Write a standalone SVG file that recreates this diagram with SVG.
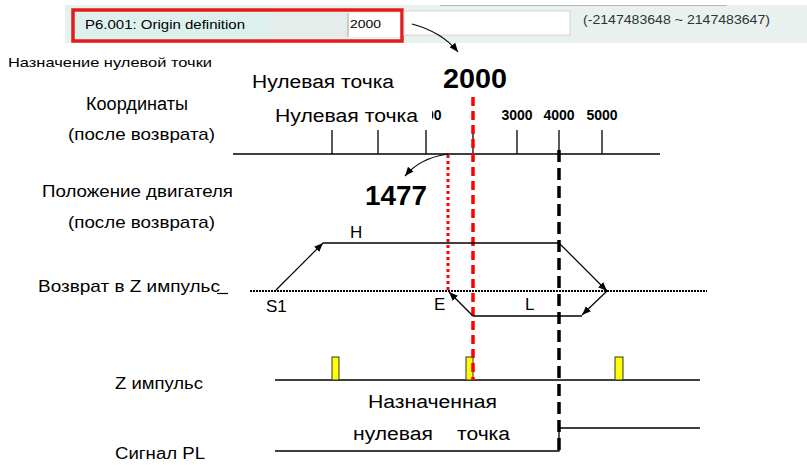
<svg xmlns="http://www.w3.org/2000/svg" width="807" height="465" viewBox="0 0 807 465">
<style>
text{font-family:"Liberation Sans",Arial,sans-serif;fill:#000}
.lbl{font-size:17px}
.big{font-size:18px}
.num{font-size:14px;font-weight:bold}
.bold{font-size:28px;font-weight:bold}
.ln{stroke:#000;stroke-width:1.3;fill:none}
.arr{stroke:#000;stroke-width:1.2;fill:none;marker-end:url(#ah)}
.pulse{fill:#ffff00;stroke:#333;stroke-width:1}
</style>
<defs>
<marker id="ah" viewBox="0 0 10 10" refX="10" refY="5" markerWidth="9" markerHeight="9" markerUnits="userSpaceOnUse" orient="auto">
<path d="M0,1 L10,5 L0,9 z" fill="#000"/>
</marker>
</defs>
<rect width="807" height="465" fill="#fff"/>

<g id="header">
<rect x="65" y="5" width="742" height="38" fill="#e9f1ef"/>
<line x1="440" y1="5.5" x2="727" y2="5.5" stroke="#b8b8b0" stroke-width="1"/>
<rect x="270" y="12" width="78" height="26" fill="#e6ece9"/>
<rect x="76" y="13" width="194" height="25" fill="#dcf0ee"/>
<rect x="347" y="13" width="54" height="24" fill="#fff"/>
<line x1="348" y1="13" x2="348" y2="37" stroke="#999" stroke-width="1"/>
<rect x="73" y="10" width="329" height="31" fill="none" stroke="#e41c1c" stroke-width="3.5"/>
<rect x="404" y="11" width="166" height="24" fill="#fff" stroke="#d6d6d0" stroke-width="1"/>
<text x="85" y="29" style="font-size:13px" textLength="160" lengthAdjust="spacingAndGlyphs">P6.001: Origin definition</text>
<text x="350" y="28" style="font-size:11.5px" textLength="31" lengthAdjust="spacingAndGlyphs">2000</text>
<text x="583" y="24" style="font-size:12.5px;fill:#333" textLength="187" lengthAdjust="spacingAndGlyphs">(-2147483648 ~ 2147483647)</text>
</g>

<g id="left-labels">
<text x="8" y="67" style="font-size:13px" textLength="204" lengthAdjust="spacingAndGlyphs">Назначение нулевой точки</text>
<text x="86" y="110" class="big" textLength="102" lengthAdjust="spacingAndGlyphs">Координаты</text>
<text x="68" y="140" class="lbl" textLength="147" lengthAdjust="spacingAndGlyphs">(после возврата)</text>
<text x="42" y="197" class="lbl" textLength="191" lengthAdjust="spacingAndGlyphs">Положение двигателя</text>
<text x="68" y="228" class="lbl" textLength="147" lengthAdjust="spacingAndGlyphs">(после возврата)</text>
<text x="38" y="292" class="lbl" textLength="182" lengthAdjust="spacingAndGlyphs">Возврат в Z импульс</text>
<line x1="217" y1="293.5" x2="228" y2="293.5" stroke="#000" stroke-width="1.2"/>
<text x="115" y="389" style="font-size:16px" textLength="88" lengthAdjust="spacingAndGlyphs">Z импульс</text>
<text x="115" y="459" style="font-size:16px" textLength="90" lengthAdjust="spacingAndGlyphs">Сигнал PL</text>
</g>

<g id="axis">
<line x1="233" y1="154" x2="660" y2="154" class="ln"/>
<line x1="332" y1="130" x2="332" y2="154" class="ln"/>
<line x1="378" y1="130" x2="378" y2="154" class="ln"/>
<line x1="426" y1="130" x2="426" y2="154" class="ln"/>
<line x1="473" y1="130" x2="473" y2="154" class="ln"/>
<line x1="517" y1="130" x2="517" y2="154" class="ln"/>
<line x1="559" y1="130" x2="559" y2="154" class="ln"/>
<line x1="602" y1="130" x2="602" y2="154" class="ln"/>
<text x="426" y="120" class="num" text-anchor="middle">1000</text>
<text x="517" y="120" class="num" text-anchor="middle">3000</text>
<text x="559" y="120" class="num" text-anchor="middle">4000</text>
<text x="602" y="120" class="num" text-anchor="middle">5000</text>
</g>

<g id="origin-labels">
<text x="252" y="88" class="big" textLength="142" lengthAdjust="spacingAndGlyphs">Нулевая точка</text>
<rect x="268" y="104" width="164" height="24" fill="#fff"/>
<text x="275" y="122" class="big" textLength="143" lengthAdjust="spacingAndGlyphs">Нулевая точка</text>
<text x="443" y="88" class="bold" textLength="64" lengthAdjust="spacingAndGlyphs">2000</text>
<text x="365" y="205" class="bold" textLength="62" lengthAdjust="spacingAndGlyphs">1477</text>
</g>

<g id="signals">
<line x1="250" y1="291" x2="707" y2="291" stroke="#000" stroke-width="2" stroke-dasharray="2 1"/>
<line x1="275" y1="380" x2="700" y2="380" class="ln"/>
<rect x="332" y="357" width="7" height="23" class="pulse"/>
<rect x="466" y="357" width="7" height="23" class="pulse"/>
<rect x="615" y="357" width="8" height="23" class="pulse"/>
<polyline points="275,451 559,451 559,428 700,428" class="ln"/>
</g>

<g id="assigned-label">
<text x="368" y="408" class="big" textLength="129" lengthAdjust="spacingAndGlyphs">Назначенная</text>
<text x="353" y="440" class="big" textLength="80" lengthAdjust="spacingAndGlyphs">нулевая</text>
<text x="457" y="440" class="big" textLength="53" lengthAdjust="spacingAndGlyphs">точка</text>
</g>

<g id="markers-lines">
<line x1="473" y1="97" x2="473" y2="380" stroke="#ff0000" stroke-width="3.5" stroke-dasharray="9 5"/>
<line x1="448" y1="155" x2="448" y2="292" stroke="#ff0000" stroke-width="3" stroke-dasharray="3 3"/>
<line x1="559" y1="150" x2="559" y2="455" stroke="#000" stroke-width="3.5" stroke-dasharray="12 6"/>
</g>

<g id="path-labels">
<text x="350" y="238" class="lbl">H</text>
<text x="266" y="312" class="lbl">S1</text>
<text x="434" y="310" class="lbl">E</text>
<text x="525" y="310" class="lbl">L</text>
</g>

<g id="connectors">
<path d="M412,24 Q442,32 458,52" class="arr"/>
<path d="M448,154 Q420,158 405,176" class="arr"/>
<line x1="276" y1="290" x2="323" y2="243" class="arr"/>
<line x1="323" y1="243" x2="559" y2="243" class="ln"/>
<line x1="559" y1="243" x2="607" y2="291" class="arr"/>
<line x1="607" y1="291" x2="582" y2="315" class="arr"/>
<line x1="582" y1="316" x2="473" y2="316" class="ln"/>
<line x1="473" y1="316" x2="449" y2="292" class="arr"/>
</g>
</svg>
